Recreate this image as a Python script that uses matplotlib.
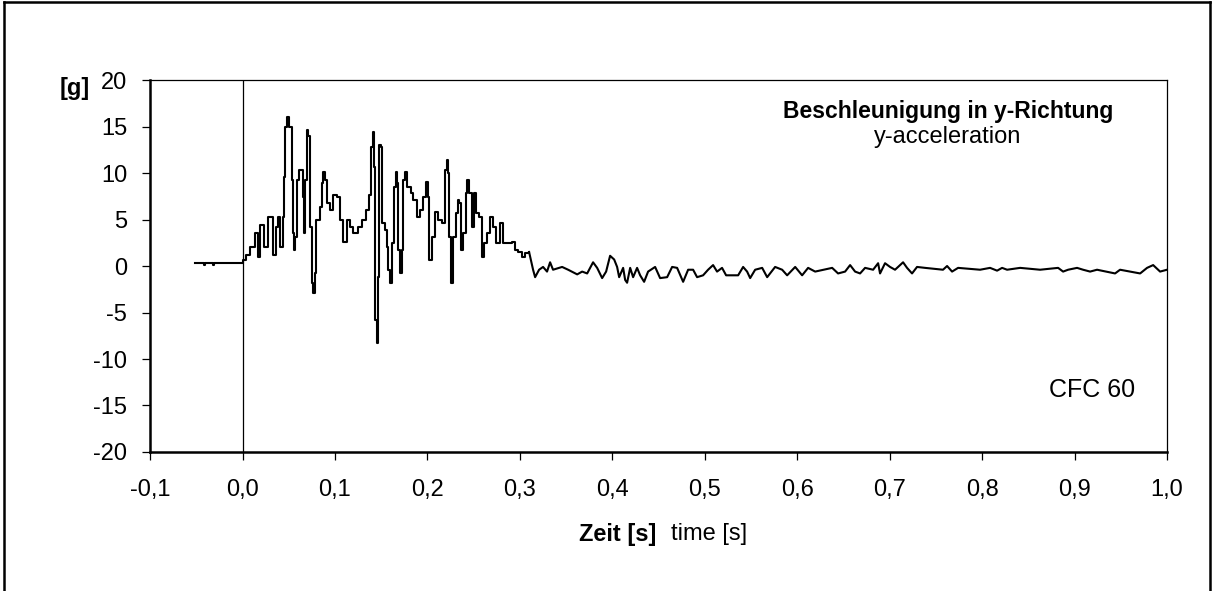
import numpy as np
import matplotlib
matplotlib.use("Agg")
import matplotlib.pyplot as plt
from matplotlib.lines import Line2D
from matplotlib.ticker import FuncFormatter

plt.rcParams["font.family"] = ["Liberation Sans", "DejaVu Sans"]
plt.rcParams["axes.unicode_minus"] = False

# pre-trigger baseline
t_pre = [-0.051, -0.042, -0.041, -0.032, -0.031, 0.000]
a_pre = [0.3, 0.1, 0.3, 0.1, 0.3, 0.3]

# main crash pulse, time [s] / acceleration [g]
t_sig = [0.0006, 0.004, 0.008, 0.0136, 0.0169, 0.019, 0.023, 0.0277, 0.0331, 0.0363,
         0.0385, 0.0407, 0.0439, 0.045, 0.046, 0.0482, 0.0504, 0.0537, 0.0547, 0.0558,
         0.0569, 0.059, 0.0612, 0.0645, 0.0655, 0.066, 0.0677, 0.0699, 0.071, 0.0731,
         0.0753, 0.0764, 0.0785, 0.0796, 0.084, 0.086, 0.0872, 0.0893, 0.0915, 0.0948,
         0.098, 0.1023, 0.1056, 0.1088, 0.1131, 0.1164, 0.1196, 0.125, 0.1294, 0.1337,
         0.1369, 0.1391, 0.1413, 0.1423, 0.1434, 0.1456, 0.1467, 0.1477, 0.1499, 0.151,
         0.1542, 0.1564, 0.1575, 0.1596, 0.1618, 0.164, 0.1661, 0.1672, 0.1683, 0.1705,
         0.1726, 0.1737, 0.1759, 0.178, 0.1824, 0.1845, 0.1889, 0.1921, 0.1954, 0.1986,
         0.2008, 0.2019, 0.2051, 0.2083, 0.2116, 0.2159, 0.2191, 0.2213, 0.2224, 0.2235,
         0.2256, 0.2278, 0.231, 0.2332, 0.2343, 0.2364, 0.2386, 0.2418, 0.2429, 0.2451,
         0.2483, 0.2505, 0.2527, 0.2559, 0.2591, 0.2613, 0.2645, 0.2678, 0.271, 0.2743,
         0.2786, 0.2818, 0.2872, 0.2916, 0.2948, 0.2981, 0.3024, 0.3057, 0.31]
a_sig = [0.6, 1.2, 2.0, 3.6, 1.0, 4.4, 2.0, 5.3, 1.2, 4.2,
         5.3, 2.0, 5.3, 9.6, 15.0, 16.0, 15.0, 9.2, 3.5, 1.7,
         3.1, 9.2, 10.3, 10.3, 7.4, 3.5, 9.2, 14.6, 14.0, 4.2,
         -1.8, -2.9, -0.8, 5.0, 6.3, 8.9, 10.1, 9.2, 6.8, 6.0,
         7.6, 7.4, 5.0, 2.6, 5.0, 4.2, 3.5, 4.2, 5.0, 6.0,
         7.6, 12.8, 14.4, 10.6, -5.8, -8.3, -1.2, 13.0, 12.8, 4.6,
         3.9, 2.0, -0.4, -1.8, 2.5, 8.5, 10.1, 8.9, 1.7, -0.8,
         1.7, 9.2, 10.1, 8.5, 7.8, 7.1, 5.3, 6.0, 7.4, 9.0,
         7.4, 0.6, 3.1, 5.8, 5.0, 4.6, 10.3, 11.4, 10.0, 3.1,
         -1.8, 3.1, 5.7, 7.1, 6.8, 1.7, 3.5, 7.8, 9.2, 7.8,
         4.2, 7.8, 5.7, 5.3, 1.0, 2.5, 3.5, 5.3, 4.2, 2.5,
         4.6, 2.5, 2.5, 2.6, 1.7, 1.5, 1.0, 1.4, 1.5]

# decay / rest phase
t_tail = [0.3143, 0.3165, 0.3208, 0.3251, 0.3294, 0.3327, 0.3359, 0.3457, 0.3522, 0.362,
          0.3674, 0.3728, 0.3792, 0.3836, 0.389, 0.3933, 0.3976, 0.402, 0.4052, 0.4074,
          0.4117, 0.4139, 0.416, 0.4193, 0.4225, 0.4268, 0.4301, 0.4344, 0.4387, 0.4463,
          0.4517, 0.4593, 0.4647, 0.4701, 0.4766, 0.482, 0.4874, 0.4917, 0.4982, 0.5036,
          0.509, 0.5133, 0.5187, 0.5231, 0.5361, 0.5415, 0.5458, 0.5491, 0.5545, 0.5621,
          0.5675, 0.5761, 0.5837, 0.5891, 0.5978, 0.6053, 0.6118, 0.6194, 0.6378, 0.6442,
          0.6518, 0.6572, 0.6626, 0.668, 0.6734, 0.6821, 0.6875, 0.6896, 0.695, 0.7004,
          0.7058, 0.7091, 0.7145, 0.7188, 0.7242, 0.7296, 0.7383, 0.7577, 0.7621, 0.7675,
          0.774, 0.7978, 0.8086, 0.8162, 0.8216, 0.827, 0.8411, 0.8627, 0.8822, 0.8876,
          0.893, 0.9027, 0.9092, 0.9168, 0.9243, 0.9438, 0.9492, 0.9709, 0.9784, 0.985,
          0.9925, 1.0]
a_tail = [-0.4, -1.2, -0.4, -0.1, -0.6, 0.4, -0.4, -0.1, -0.4, -0.9,
          -0.6, -0.8, 0.4, -0.2, -1.3, -0.6, 1.1, 0.7, -0.1, -1.2,
          -0.2, -1.5, -1.8, -0.2, -1.2, -0.2, -1.0, -1.7, -0.6, -0.1,
          -1.3, -1.2, -0.1, -0.2, -1.7, -0.4, -0.4, -1.2, -1.0, -0.4,
          0.1, -0.6, -0.2, -1.0, -1.0, -0.1, -0.6, -1.3, -0.4, -0.2,
          -1.2, -0.1, -0.4, -1.0, -0.1, -1.0, -0.2, -0.6, -0.2, -0.8,
          -0.6, 0.1, -0.6, -0.8, -0.2, -0.4, 0.3, -0.8, 0.3, -0.1,
          -0.4, -0.1, 0.4, -0.2, -0.8, -0.1, -0.2, -0.4, 0.0, -0.6,
          -0.2, -0.4, -0.2, -0.5, -0.2, -0.4, -0.2, -0.4, -0.2, -0.6,
          -0.4, -0.2, -0.4, -0.6, -0.4, -0.8, -0.4, -0.8, -0.2, 0.1,
          -0.6, -0.4]

x_ticks = np.round(np.arange(-0.1, 1.01, 0.1), 1)
y_ticks = np.arange(-20, 21, 5)


def _comma(v, pos):
    return f"{v:.1f}".replace(".", ",")


fig = plt.figure(figsize=(12.13, 5.91), dpi=100)
ax = fig.add_axes([0.1237, 0.2352, 0.8384, 0.6294])

# sampled pulse drawn as a staircase, the quiet tail as a plain line
t_step = np.concatenate([t_pre, t_sig])
a_step = np.concatenate([a_pre, a_sig])
ax.plot(t_step, a_step, color="black", lw=1.5, drawstyle="steps-post")
ax.plot(np.concatenate([[t_sig[-1]], t_tail]), np.concatenate([[a_sig[-1]], a_tail]),
        color="black", lw=1.5)
ax.axvline(0.0, color="black", lw=0.9)

ax.set_xlim(-0.1, 1.0)
ax.set_ylim(-20, 20)
ax.set_xticks(x_ticks)
ax.set_yticks(y_ticks)
ax.xaxis.set_major_formatter(FuncFormatter(_comma))
ax.tick_params(axis="both", direction="out", length=5.5, width=0.9,
               labelsize=17, colors="black")
ax.tick_params(axis="x", pad=14)
ax.tick_params(axis="y", pad=11)

for side in ("left", "bottom"):
    ax.spines[side].set_linewidth(1.8)
for side in ("top", "right"):
    ax.spines[side].set_linewidth(0.9)

# axis labels, placed like the original
fig.text(90 / 1213, 1 - 88 / 591, "[g]", fontsize=17, fontweight="bold",
         ha="right", va="center")
fig.text(656 / 1213, 1 - 534 / 591, "Zeit [s]", fontsize=17, fontweight="bold",
         ha="right", va="center")
fig.text(671 / 1213, 1 - 534 / 591, "time [s]", fontsize=17,
         ha="left", va="center")

ax.text(0.763, 16.6, "Beschleunigung in y-Richtung", fontsize=16.5, fontweight="bold",
        ha="center", va="center")
ax.text(0.763, 13.9, "y-acceleration", fontsize=17, ha="center", va="center")
ax.text(0.9655, -13.3, "CFC 60", fontsize=18, ha="right", va="center")

# frame round the whole picture (no bottom edge visible)
for xs, ys in (([0.003, 0.003], [0.0, 0.996]),
               ([0.003, 0.9975], [0.996, 0.996]),
               ([0.9975, 0.9975], [0.0, 0.996])):
    fig.add_artist(Line2D(xs, ys, color="black", lw=1.8, transform=fig.transFigure))

fig.savefig("out.png", dpi=100, facecolor="white")
plt.close(fig)
